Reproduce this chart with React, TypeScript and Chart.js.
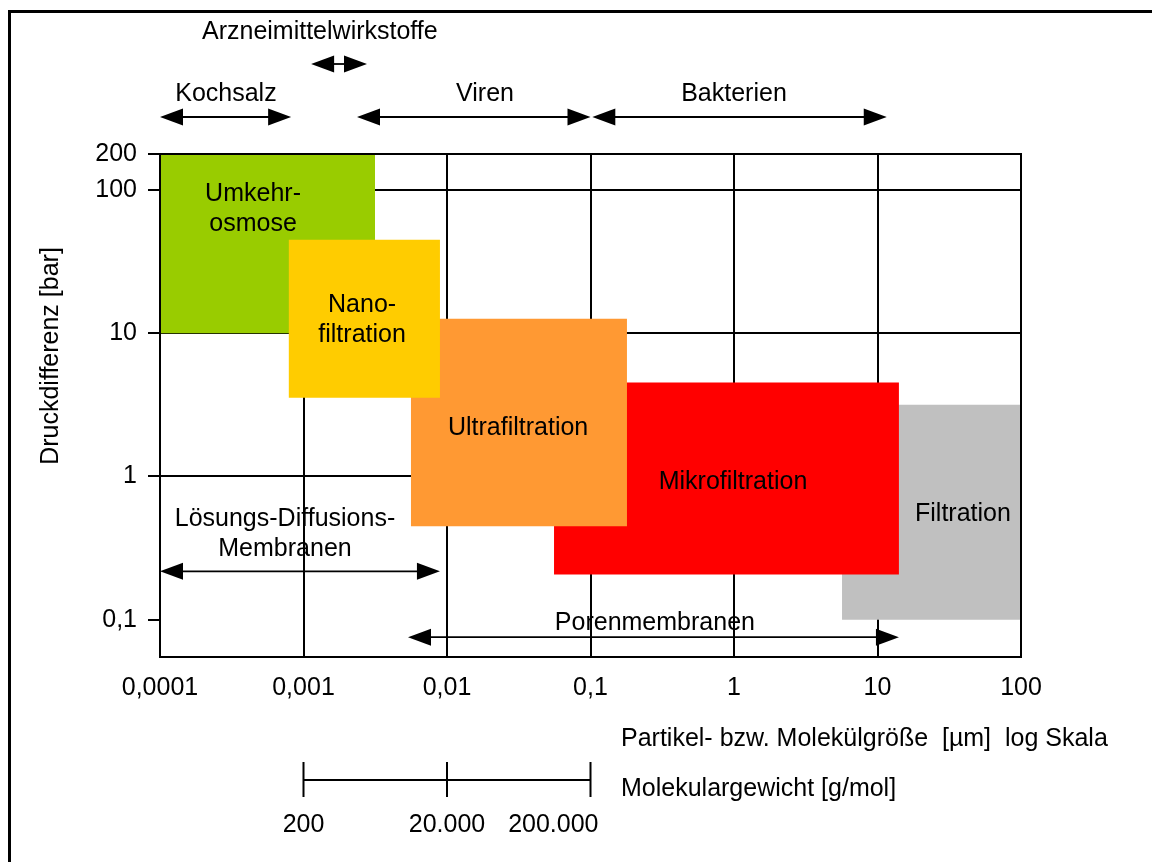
import React, { useEffect, useRef } from 'react';
import { Chart, registerables } from 'chart.js';

Chart.register(...registerables);

// ---- axes ----
const xTickValues = [0.0001, 0.001, 0.01, 0.1, 1, 10, 100];
const xTickLabels = ['0,0001', '0,001', '0,01', '0,1', '1', '10', '100'];
const yTickValues = [178, 100, 10, 1, 0.1];
const yTickLabels = ['200', '100', '10', '1', '0,1'];
const xMin = 0.0001;
const xMax = 100;
const yMin = 0.055;
const yMax = 178;

// ---- membrane processes (index 0 is drawn on top) ----
const processNames = ['Nanofiltration', 'Umkehrosmose', 'Ultrafiltration', 'Mikrofiltration', 'Filtration'];
const processLabelLines = [['Nano-', 'filtration'], ['Umkehr-', 'osmose'], ['Ultrafiltration'], ['Mikrofiltration'], ['Filtration']];
const processXFrom = [0.00079, 0.0001, 0.00561, 0.0557, 5.66];
const processXTo = [0.00893, 0.00315, 0.1795, 14.1, 100];
const processYFrom = [3.55, 10, 0.449, 0.207, 0.1];
const processYTo = [44.8, 200, 12.6, 4.52, 3.17];
const processColors = ['#FFCC00', '#99CC00', '#FF9933', '#FF0000', '#C0C0C0'];
const processLabelX = [0.00256, 0.000445, 0.0313, 0.984, 39.4];
const processLabelY = [[16.3, 10], [96.8, 59.8], [2.23], [0.938], [0.561]];

// ---- particle ranges above the plot ----
const rangeNames = ['Kochsalz', 'Arzneimittelwirkstoffe', 'Viren', 'Bakterien'];
const rangeFrom = [0.0001, 0.00113, 0.00236, 0.103];
const rangeTo = [0.00082, 0.00277, 0.1, 11.6];
const rangeLabelX = [0.000288, 0.0013, 0.0184, 1.0];
const rangeRow = [0, 1, 0, 0];

// ---- membrane types inside the plot ----
const membraneLines = [['Lösungs-Diffusions-', 'Membranen'], ['Porenmembranen']];
const membraneFrom = [0.0001, 0.00535];
const membraneTo = [0.00893, 14.1];
const membraneArrowY = [0.218, 0.0756];
const membraneLabelX = [0.000743, 0.281];
const membraneLabelY = [[0.518, 0.32], [0.0977]];

// ---- molecular weight scale ----
const mwPositions = [0.001, 0.01, 0.1];
const mwLabels = ['200', '20.000', '200.000'];

const FAMILY = '"Liberation Sans", Arial, sans-serif';
const FONT = '25px ' + FAMILY;
const TEXT_DY = 2;

function arrow(ctx: CanvasRenderingContext2D, x1: number, x2: number, y: number) {
  const hl = 23;
  const hw = 8.5;
  ctx.beginPath();
  ctx.moveTo(x1 + hl - 2, y);
  ctx.lineTo(x2 - hl + 2, y);
  ctx.stroke();
  ctx.beginPath();
  ctx.moveTo(x1, y);
  ctx.lineTo(x1 + hl, y - hw);
  ctx.lineTo(x1 + hl, y + hw);
  ctx.closePath();
  ctx.fill();
  ctx.beginPath();
  ctx.moveTo(x2, y);
  ctx.lineTo(x2 - hl, y - hw);
  ctx.lineTo(x2 - hl, y + hw);
  ctx.closePath();
  ctx.fill();
}

const annotationPlugin = {
  id: 'annotations',
  beforeDraw(chart: any) {
    const ctx = chart.ctx as CanvasRenderingContext2D;
    ctx.save();
    ctx.fillStyle = '#fff';
    ctx.fillRect(0, 0, chart.width, chart.height);
    ctx.fillStyle = '#000';
    ctx.fillRect(8, 10, chart.width - 8, 3);
    ctx.fillRect(8, 10, 3, chart.height - 10);
    ctx.restore();
  },
  afterDatasetsDraw(chart: any) {
    const ctx = chart.ctx as CanvasRenderingContext2D;
    const area = chart.chartArea;
    const xs = chart.scales.x;
    const ys = chart.scales.y;
    ctx.save();
    // plot frame
    ctx.strokeStyle = '#000';
    ctx.lineWidth = 2;
    ctx.strokeRect(area.left, area.top, area.right - area.left, area.bottom - area.top);

    ctx.fillStyle = '#000';
    ctx.font = FONT;
    ctx.textAlign = 'center';
    ctx.textBaseline = 'middle';

    // process labels
    processNames.forEach((_, i) => {
      const px = xs.getPixelForValue(processLabelX[i]);
      processLabelLines[i].forEach((line, j) => {
        ctx.fillText(line, px, ys.getPixelForValue(processLabelY[i][j]) + TEXT_DY);
      });
    });

    // ranges above the plot
    rangeNames.forEach((name, i) => {
      const arrowY = rangeRow[i] === 0 ? area.top - 37 : area.top - 90;
      const labelY = rangeRow[i] === 0 ? area.top - 62 : area.top - 124;
      ctx.fillText(name, xs.getPixelForValue(rangeLabelX[i]), labelY + TEXT_DY);
      ctx.lineWidth = 1.8;
      arrow(ctx, xs.getPixelForValue(rangeFrom[i]), xs.getPixelForValue(rangeTo[i]), arrowY);
    });

    // membrane types
    membraneLines.forEach((lines, i) => {
      const px = xs.getPixelForValue(membraneLabelX[i]);
      lines.forEach((line, j) => ctx.fillText(line, px, ys.getPixelForValue(membraneLabelY[i][j]) + TEXT_DY));
      ctx.lineWidth = 1.8;
      arrow(ctx, xs.getPixelForValue(membraneFrom[i]), xs.getPixelForValue(membraneTo[i]), ys.getPixelForValue(membraneArrowY[i]));
    });

    // axis titles
    ctx.textAlign = 'left';
    ctx.fillText('Partikel- bzw. Molekülgröße  [µm]  log Skala', 621, area.bottom + 80 + TEXT_DY);
    ctx.fillText('Molekulargewicht [g/mol]', 621, area.bottom + 130 + TEXT_DY);

    ctx.save();
    ctx.translate(51, 356);
    ctx.rotate(-Math.PI / 2);
    ctx.textAlign = 'center';
    ctx.fillText('Druckdifferenz [bar]', 0, 0);
    ctx.restore();

    // molecular weight scale
    const mwY = area.bottom + 123;
    const mwPx = mwPositions.map((v) => xs.getPixelForValue(v));
    ctx.lineWidth = 2;
    ctx.beginPath();
    ctx.moveTo(mwPx[0], mwY);
    ctx.lineTo(mwPx[mwPx.length - 1], mwY);
    mwPx.forEach((p) => {
      ctx.moveTo(p, mwY - 18);
      ctx.lineTo(p, mwY + 17);
    });
    ctx.stroke();
    mwLabels.forEach((label, i) => {
      const last = i === mwLabels.length - 1;
      ctx.textAlign = last ? 'right' : 'center';
      ctx.fillText(label, last ? mwPx[i] + 8 : mwPx[i], area.bottom + 166 + TEXT_DY);
    });
    ctx.restore();
  },
};

export default function App() {
  const canvasRef = useRef<HTMLCanvasElement | null>(null);

  useEffect(() => {
    if (!canvasRef.current) return;
    const datasets = processNames.map((name, i) => ({
      label: name,
      data: [
        { x: processXFrom[i], y: processYFrom[i] },
        { x: processXTo[i], y: processYFrom[i] },
        { x: processXTo[i], y: processYTo[i] },
        { x: processXFrom[i], y: processYTo[i] },
        { x: processXFrom[i], y: processYFrom[i] },
      ],
      backgroundColor: processColors[i],
      borderColor: 'rgba(0,0,0,0)',
      borderWidth: 0,
      pointRadius: 0,
      pointHoverRadius: 0,
      tension: 0,
      fill: 'shape',
    }));

    const chart = new Chart(canvasRef.current, {
      type: 'line',
      data: { datasets },
      options: {
        responsive: false,
        animation: false,
        events: [],
        layout: { padding: { top: 154, right: 131, bottom: 0, left: 0 } },
        plugins: {
          legend: { display: false },
          tooltip: { enabled: false },
          title: { display: false },
        },
        scales: {
          x: {
            type: 'logarithmic',
            min: xMin,
            max: xMax,
            bounds: 'data',
            afterBuildTicks: (scale: any) => {
              scale.ticks = xTickValues.map((v) => ({ value: v }));
            },
            afterFit: (scale: any) => {
              scale.height = 205;
            },
            ticks: {
              autoSkip: false,
              maxRotation: 0,
              padding: 16,
              color: '#000',
              font: { family: FAMILY, size: 25 },
              callback: (_v: any, i: number) => xTickLabels[i],
            },
            grid: { color: '#000', lineWidth: 2, drawTicks: false },
            border: { display: true, color: '#000', width: 2 },
          },
          y: {
            type: 'logarithmic',
            min: yMin,
            max: yMax,
            bounds: 'data',
            afterBuildTicks: (scale: any) => {
              scale.ticks = yTickValues.map((v) => ({ value: v }));
            },
            afterFit: (scale: any) => {
              scale.width = 160;
            },
            ticks: {
              autoSkip: false,
              padding: 11,
              color: '#000',
              font: { family: FAMILY, size: 25 },
              callback: (_v: any, i: number) => yTickLabels[i],
            },
            grid: {
              color: (c: any) => (c.tick && c.tick.value === 0.1 ? 'rgba(0,0,0,0)' : '#000'),
              tickColor: '#000',
              lineWidth: 2,
              tickWidth: 2,
              tickLength: 12,
              drawTicks: true,
            },
            border: { display: true, color: '#000', width: 2 },
          },
        },
      } as any,
      plugins: [annotationPlugin],
    });
    return () => chart.destroy();
  }, []);

  return (
    <div style={{ position: 'absolute', left: 0, top: 0, width: 1152, height: 862, background: '#fff' }}>
      <canvas ref={canvasRef} width={1152} height={862} />
    </div>
  );
}
